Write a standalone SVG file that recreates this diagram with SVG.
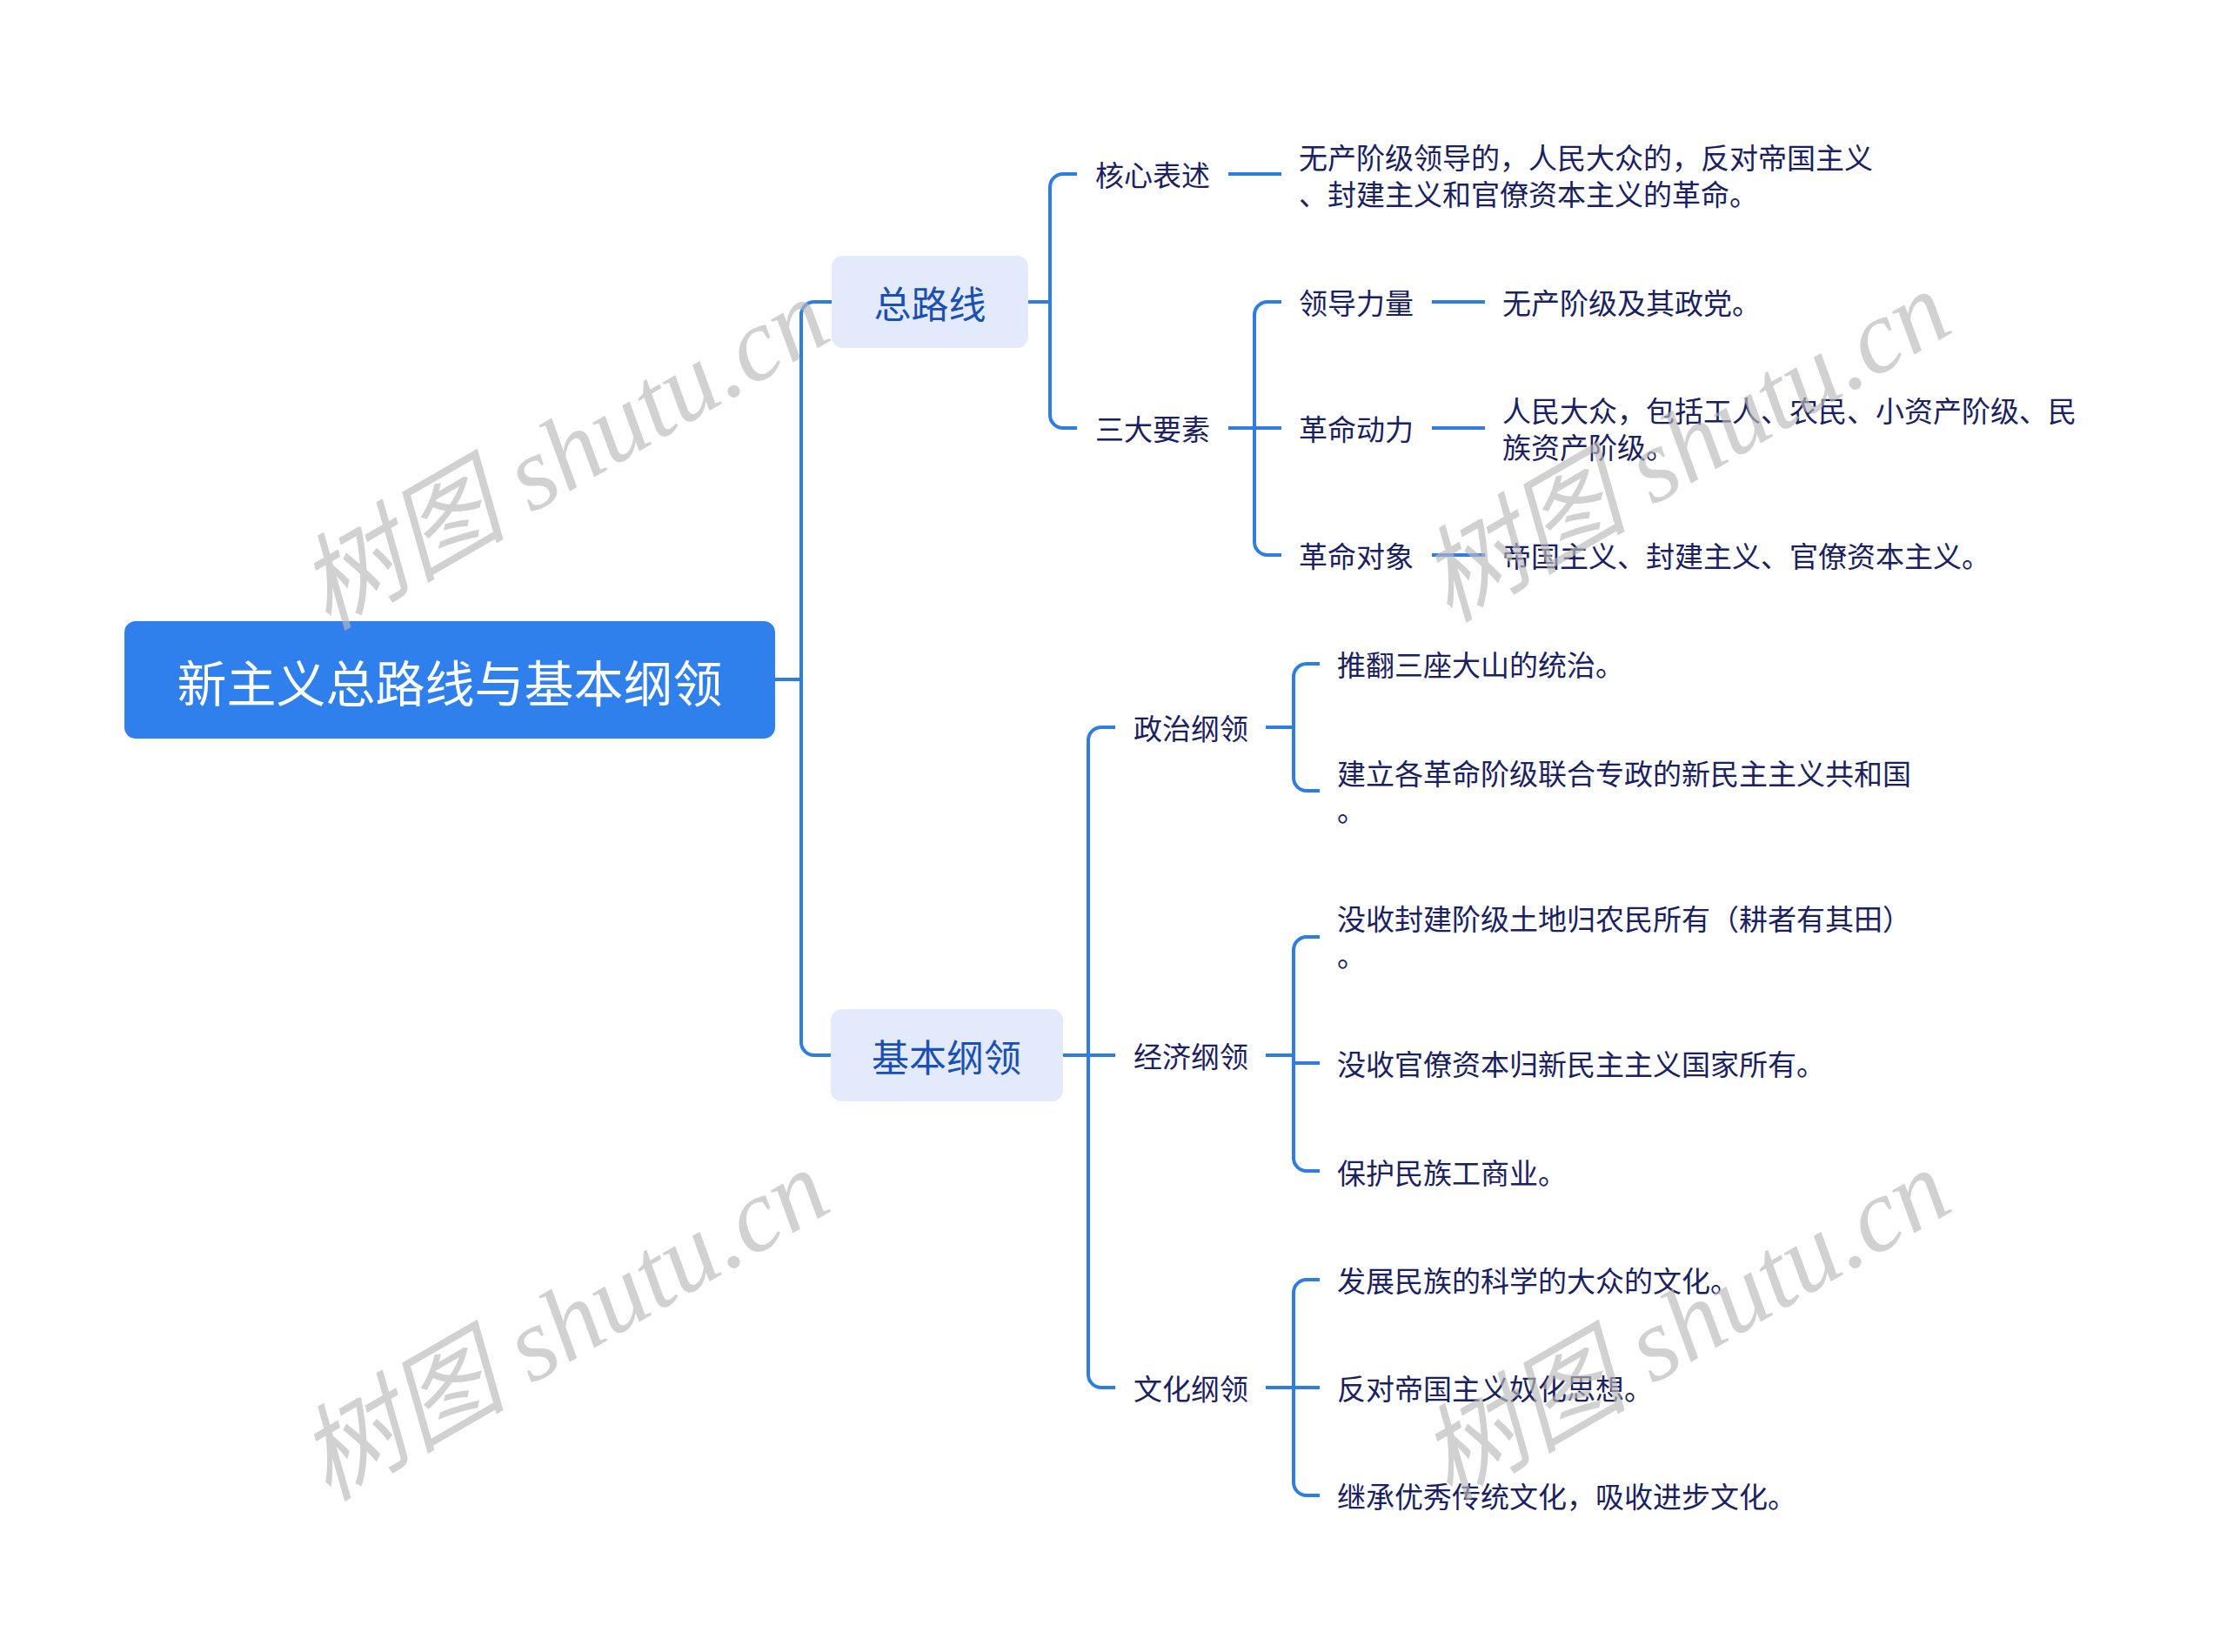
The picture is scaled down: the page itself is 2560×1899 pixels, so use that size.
<svg xmlns="http://www.w3.org/2000/svg" width="2560" height="1899" viewBox="0 0 2560 1899">
<style>
  .conn { fill: none; stroke: #2f7de1; stroke-width: 4; stroke-linecap: butt; }
  .t { font-family: "Noto Sans CJK SC", "Noto Sans", sans-serif; dominant-baseline: central; }
  .root { font-size: 57px; fill: #ffffff; text-anchor: middle; }
  .l1 { font-size: 43px; fill: #1a4fb3; text-anchor: middle; }
  .l2 { font-size: 33px; fill: #1b215e; }
  .wm { font-family: "Liberation Serif", "Noto Sans CJK SC", serif; font-style: italic; font-size: 120px; fill: #b9b9b9; opacity: 0.65; text-anchor: middle; dominant-baseline: central; }
</style>
<rect x="0" y="0" width="2560" height="1899" fill="#ffffff"/>

<g id="connectors">
  <path class="conn" d="M891,781 H921"/>
  <path class="conn" d="M921,781 V362 A15,15 0 0 1 936,347 H956"/>
  <path class="conn" d="M921,781 V1198 A15,15 0 0 0 936,1213 H955"/>
  <path class="conn" d="M1182,347 H1207"/>
  <path class="conn" d="M1207,347 V215 A15,15 0 0 1 1222,200 H1238"/>
  <path class="conn" d="M1207,347 V477 A15,15 0 0 0 1222,492 H1238"/>
  <path class="conn" d="M1412,200 H1473"/>
  <path class="conn" d="M1412,492 H1473"/>
  <path class="conn" d="M1442,492 V362 A15,15 0 0 1 1457,347 H1473"/>
  <path class="conn" d="M1442,492 V623 A15,15 0 0 0 1457,638 H1473"/>
  <path class="conn" d="M1646,347 H1707"/>
  <path class="conn" d="M1646,492 H1707"/>
  <path class="conn" d="M1646,638 H1707"/>
  <path class="conn" d="M1222,1213 H1282"/>
  <path class="conn" d="M1251,1213 V851 A15,15 0 0 1 1266,836 H1282"/>
  <path class="conn" d="M1251,1213 V1580 A15,15 0 0 0 1266,1595 H1282"/>
  <path class="conn" d="M1455,836 H1487"/>
  <path class="conn" d="M1487,836 V778 A15,15 0 0 1 1502,763 H1517"/>
  <path class="conn" d="M1487,836 V894 A15,15 0 0 0 1502,909 H1517"/>
  <path class="conn" d="M1455,1213 H1487"/>
  <path class="conn" d="M1487,1213 V1092 A15,15 0 0 1 1502,1077 H1517"/>
  <path class="conn" d="M1487,1222 H1517"/>
  <path class="conn" d="M1487,1213 V1331 A15,15 0 0 0 1502,1346 H1517"/>
  <path class="conn" d="M1455,1595 H1517"/>
  <path class="conn" d="M1487,1595 V1486 A15,15 0 0 1 1502,1471 H1517"/>
  <path class="conn" d="M1487,1595 V1704 A15,15 0 0 0 1502,1719 H1517"/>
</g>

<g id="root">
  <rect x="143" y="714" width="748" height="135" rx="13" fill="#2f80ed"/>
  <text class="t root" x="517" y="782">新主义总路线与基本纲领</text>
</g>

<g id="zongluxian">
  <rect x="956" y="294" width="226" height="106" rx="13" fill="#e2eafb"/>
  <text class="t l1" x="1069" y="347">总路线</text>
</g>
<g id="jibengangling">
  <rect x="955" y="1160" width="267" height="106" rx="13" fill="#e2eafb"/>
  <text class="t l1" x="1088" y="1213">基本纲领</text>
</g>

<g id="hexinbiaoshu"><text class="t l2" x="1259" y="200">核心表述</text></g>
<g id="hexinbiaoshu-c">
  <text class="t l2" x="1493" y="180">无产阶级领导的，人民大众的，反对帝国主义<tspan x="1493" dy="42">、封建主义和官僚资本主义的革命。</tspan></text>
</g>
<g id="sandayaosu"><text class="t l2" x="1259" y="492">三大要素</text></g>
<g id="lingdaoliliang"><text class="t l2" x="1493" y="347">领导力量</text></g>
<g id="lingdaoliliang-c"><text class="t l2" x="1727" y="347">无产阶级及其政党。</text></g>
<g id="gemingdongli"><text class="t l2" x="1493" y="492">革命动力</text></g>
<g id="gemingdongli-c">
  <text class="t l2" x="1727" y="471">人民大众，包括工人、农民、小资产阶级、民<tspan x="1727" dy="42">族资产阶级。</tspan></text>
</g>
<g id="gemingduixiang"><text class="t l2" x="1493" y="638">革命对象</text></g>
<g id="gemingduixiang-c"><text class="t l2" x="1727" y="638">帝国主义、封建主义、官僚资本主义。</text></g>

<g id="zhengzhi"><text class="t l2" x="1303" y="836">政治纲领</text></g>
<g id="zhengzhi-1"><text class="t l2" x="1537" y="763">推翻三座大山的统治。</text></g>
<g id="zhengzhi-2">
  <text class="t l2" x="1537" y="888">建立各革命阶级联合专政的新民主主义共和国<tspan x="1537" dy="42">。</tspan></text>
</g>

<g id="jingji"><text class="t l2" x="1303" y="1213">经济纲领</text></g>
<g id="jingji-1">
  <text class="t l2" x="1537" y="1055">没收封建阶级土地归农民所有（耕者有其田）<tspan x="1537" dy="42">。</tspan></text>
</g>
<g id="jingji-2"><text class="t l2" x="1537" y="1222">没收官僚资本归新民主主义国家所有。</text></g>
<g id="jingji-3"><text class="t l2" x="1537" y="1347">保护民族工商业。</text></g>

<g id="wenhua"><text class="t l2" x="1303" y="1595">文化纲领</text></g>
<g id="wenhua-1"><text class="t l2" x="1537" y="1471">发展民族的科学的大众的文化。</text></g>
<g id="wenhua-2"><text class="t l2" x="1537" y="1595">反对帝国主义奴化思想。</text></g>
<g id="wenhua-3"><text class="t l2" x="1537" y="1719">继承优秀传统文化，吸收进步文化。</text></g>

<g id="watermarks">
  <text class="wm" transform="translate(648,522) rotate(-30)">树图 shutu.cn</text>
  <text class="wm" transform="translate(648,1523) rotate(-30)">树图 shutu.cn</text>
  <text class="wm" transform="translate(1937,513) rotate(-30)">树图 shutu.cn</text>
  <text class="wm" transform="translate(1937,1523) rotate(-30)">树图 shutu.cn</text>
</g>
</svg>
